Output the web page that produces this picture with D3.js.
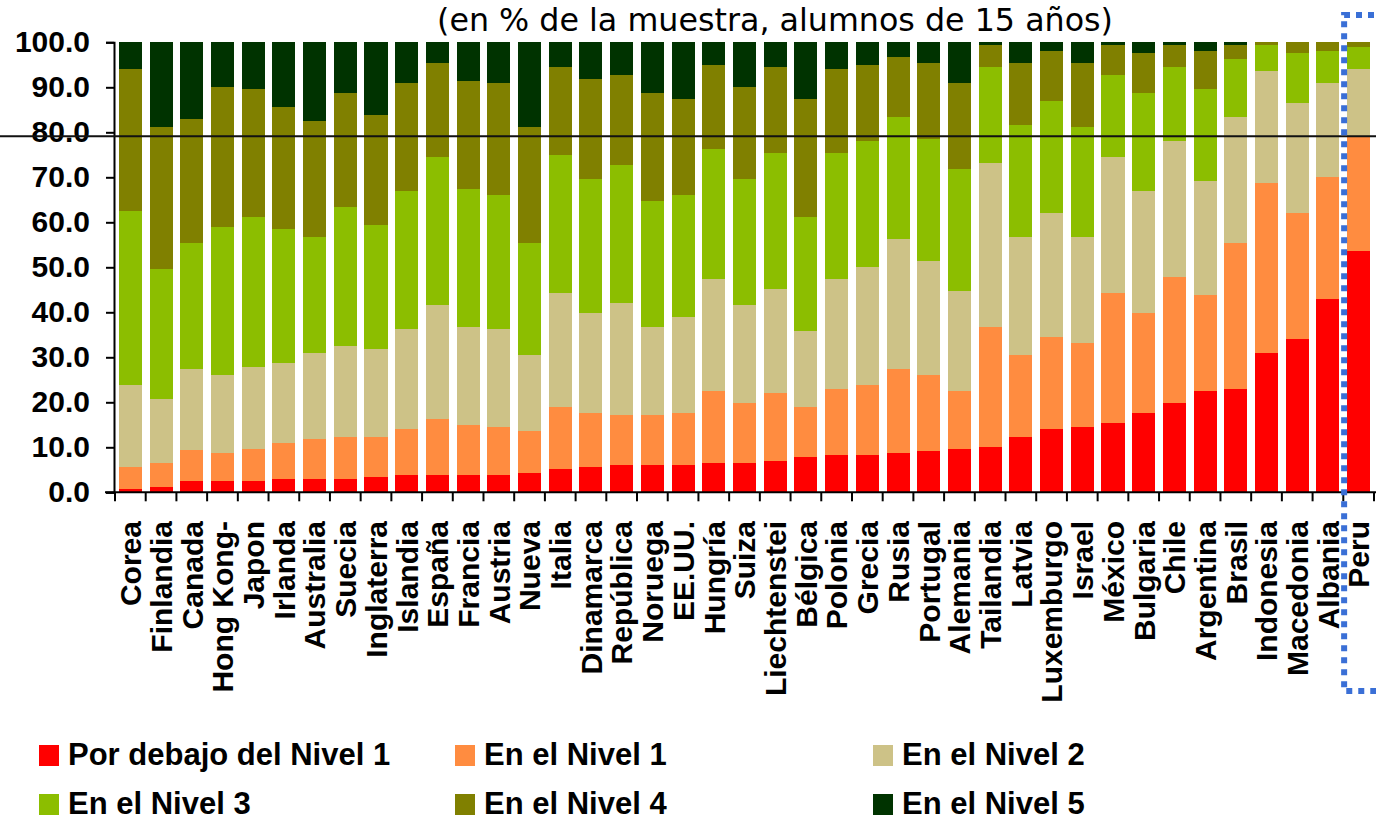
<!DOCTYPE html>
<html><head><meta charset="utf-8">
<script src="https://cdn.jsdelivr.net/npm/d3@7/dist/d3.min.js"></script>
<style>body{margin:0;background:#fff}</style>
</head><body>
<svg id="chart" width="1376" height="822"></svg>
<script>
const titleText = "(en % de la muestra, alumnos de 15 años)";
const countries = ["Corea","Finlandia","Canada","Hong Kong-","Japon","Irlanda","Australia","Suecia","Inglaterra","Islandia","España","Francia","Austria","Nueva","Italia","Dinamarca","República","Noruega","EE.UU.","Hungría","Suiza","Liechtenstei","Bélgica","Polonia","Grecia","Rusia","Portugal","Alemania","Tailandia","Latvia","Luxemburgo","Israel","México","Bulgaria","Chile","Argentina","Brasil","Indonesia","Macedonia","Albania","Peru"];
const levelNames = ["Por debajo del Nivel 1","En el Nivel 1","En el Nivel 2","En el Nivel 3","En el Nivel 4","En el Nivel 5"];
const levelColors = ["#ff0000","#ff8c40","#cdc287","#8cbe00","#808000","#003300"];
const belowL1 = [0.8,1.2,2.5,2.5,2.5,3.0,3.0,3.0,3.4,3.9,3.9,3.9,3.9,4.3,5.2,5.6,6.1,6.1,6.1,6.5,6.5,7.0,7.9,8.3,8.3,8.8,9.2,9.7,10.1,12.4,14.1,14.5,15.4,17.6,19.9,22.5,23.0,31.0,34.1,43.0,53.6];
const level1 = [4.9,5.4,6.8,6.3,7.2,8.0,8.9,9.4,9.0,10.2,12.4,11.1,10.6,9.3,13.8,12.0,11.1,11.1,11.5,16.0,13.4,15.1,11.1,14.7,15.5,18.6,16.9,12.8,26.6,18.1,20.4,18.7,28.9,22.2,28.0,21.4,32.4,37.7,28.0,27.1,25.4];
const level2 = [18.1,14.1,18.1,17.3,18.1,17.7,19.1,20.2,19.4,22.2,25.3,21.7,21.8,16.9,25.3,22.2,24.9,19.5,21.4,24.9,21.7,23.1,16.8,24.4,26.3,28.9,25.3,22.2,36.5,26.3,27.6,23.6,30.2,27.1,30.2,25.3,28.0,24.9,24.4,20.9,15.1];
const level3 = [38.8,28.9,28.0,32.9,33.4,29.8,25.8,30.8,27.7,30.7,32.9,30.7,29.8,24.9,30.7,29.9,30.6,28.1,27.1,28.9,28.1,30.2,25.4,28.0,28.0,27.1,27.1,27.1,21.3,24.8,24.9,24.4,18.2,21.9,16.4,20.5,12.9,5.8,11.1,7.1,4.8];
const level4 = [31.5,31.6,27.5,31.1,28.5,27.2,25.8,25.4,24.4,24.0,20.9,24.0,24.9,25.8,19.5,22.1,20.0,24.0,21.4,18.7,20.4,19.1,26.3,18.7,16.9,13.3,16.9,19.2,4.9,13.8,11.1,14.2,6.7,8.8,4.9,8.4,3.1,0.6,2.4,1.9,1.1];
const level5 = [5.9,18.8,17.1,9.9,10.3,14.3,17.4,11.2,16.1,9.0,4.6,8.6,9.0,18.8,5.5,8.2,7.3,11.2,12.5,5.0,9.9,5.5,12.5,5.9,5.0,3.3,4.6,9.0,0.6,4.6,1.9,4.6,0.6,2.4,0.6,1.9,0.6,0.0,0.0,0.0,0.0];
const yTicks = [0,10,20,30,40,50,60,70,80,90,100];
const refLine = [79.1];
const highlighted = ["Peru"];

const series = [belowL1, level1, level2, level3, level4, level5];
const rows = countries.map((c, i) => {
  const r = {country: c};
  levelNames.forEach((k, j) => r[k] = series[j][i]);
  return r;
});

const svg = d3.select("#chart");
const W = 1376, H = 822;
const x = d3.scaleBand().domain(countries).range([115, 1374]).paddingInner(0.25).paddingOuter(0.125);
const y = d3.scaleLinear().domain([0, 100]).range([492.3, 42.3]);
const color = d3.scaleOrdinal().domain(levelNames).range(levelColors);

const stacked = d3.stack().keys(levelNames)(rows);

svg.append("g").selectAll("g").data(stacked).join("g")
  .attr("fill", d => color(d.key))
  .selectAll("rect").data(d => d).join("rect")
  .attr("x", d => x(d.data.country))
  .attr("width", x.bandwidth())
  .attr("y", d => y(d[1]))
  .attr("height", d => Math.max(0, y(d[0]) - y(d[1])))
  .attr("shape-rendering", "crispEdges");

// title
svg.append("text").attr("x", 775).attr("y", 31)
  .attr("text-anchor", "middle")
  .attr("font-family", "DejaVu Sans, sans-serif")
  .attr("font-size", 32)
  .attr("textLength", 676).attr("lengthAdjust", "spacingAndGlyphs")
  .attr("fill", "#000")
  .text(titleText);

// y axis
const yAxis = svg.append("g").attr("transform", "translate(114,0)")
  .call(d3.axisLeft(y).tickValues(yTicks).tickFormat(d3.format(".1f")).tickSize(8).tickPadding(16));
yAxis.select(".domain").attr("stroke", "#000").attr("stroke-width", 2);
yAxis.selectAll(".tick line").attr("stroke", "#000").attr("stroke-width", 2);
yAxis.selectAll(".tick text")
  .attr("font-family", "Liberation Sans, Arial, sans-serif")
  .attr("font-weight", "bold").attr("font-size", 30).attr("fill", "#000");

// x axis line and ticks at band boundaries
const bounds = countries.map(c => x(c) - (x.step() - x.bandwidth()) / 2);
bounds.push(x.range()[1]);
svg.append("line").attr("x1", 105).attr("x2", W).attr("y1", y(0)).attr("y2", y(0))
  .attr("stroke", "#000").attr("stroke-width", 2);
svg.append("g").selectAll("line").data(bounds).join("line")
  .attr("x1", d => d).attr("x2", d => d)
  .attr("y1", y(0)).attr("y2", y(0) + 9)
  .attr("stroke", "#000").attr("stroke-width", 2);

// x labels
svg.append("g").selectAll("text").data(countries).join("text")
  .attr("transform", d => `translate(${x(d) + x.bandwidth() / 2},521) rotate(-90)`)
  .attr("text-anchor", "end")
  .attr("dy", "0.36em")
  .attr("font-family", "Liberation Sans, Arial, sans-serif")
  .attr("font-weight", "bold").attr("font-size", 30).attr("fill", "#000")
  .text(d => d);

// reference line
svg.append("g").selectAll("line").data(refLine).join("line")
  .attr("x1", 0).attr("x2", W).attr("y1", d => y(d)).attr("y2", d => y(d))
  .attr("stroke", "#111").attr("stroke-width", 2);

// highlight box (dotted)
highlighted.forEach(c => {
  const x0 = x(c) - 3;
  svg.append("path")
    .attr("d", `M${W + 10},15 H${x0} V691 H${W + 10}`)
    .attr("fill", "none")
    .attr("stroke", "#3a6fd6").attr("stroke-width", 6)
    .attr("stroke-dasharray", "6 6");
});

// legend
const legCols = [39, 455, 873];
const legRows = [745, 794];
const leg = svg.append("g").selectAll("g").data(levelNames).join("g")
  .attr("transform", (d, i) => `translate(${legCols[i % 3]},${legRows[Math.floor(i / 3)]})`);
leg.append("rect").attr("width", 20).attr("height", 21).attr("fill", d => color(d));
leg.append("text").attr("x", 29).attr("y", 20)
  .attr("font-family", "Liberation Sans, Arial, sans-serif")
  .attr("font-weight", "bold").attr("font-size", 31).attr("fill", "#000")
  .text(d => d);
</script>
</body></html>
